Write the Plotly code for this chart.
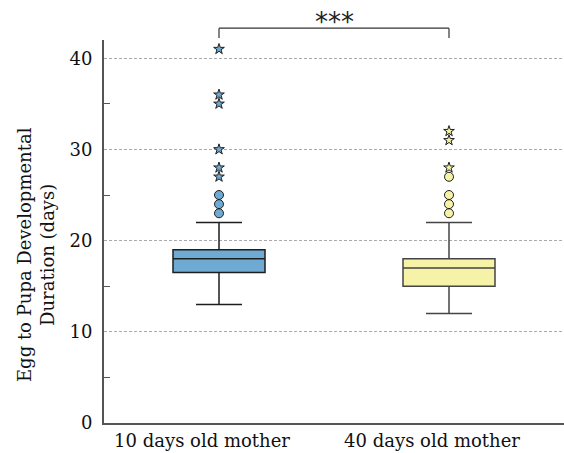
import plotly.graph_objects as go

categories = ["10 days old mother", "40 days old mother"]
q1 = [16.5, 15]
median = [18, 17]
q3 = [19, 18]
lower_fence = [13, 12]
upper_fence = [22, 22]
outliers = [[23, 24, 25], [23, 24, 25, 27]]
extremes = [[27, 28, 30, 35, 36, 41], [28, 31, 32]]
fills = ["#6faad3", "#f6f2a8"]
lines = ["#1e1e1e", "#444444"]
y_ticks = [0, 10, 20, 30, 40]
y_minor = [5, 15, 25, 35]
sig_label = "***"
y_title = "Egg to Pupa Developmental<br>Duration (days)"

FONT = "DejaVu Serif"

fig = go.Figure()
for i, cat in enumerate(categories):
    fig.add_trace(go.Box(
        x=[cat], q1=[q1[i]], median=[median[i]], q3=[q3[i]],
        lowerfence=[lower_fence[i]], upperfence=[upper_fence[i]],
        boxpoints=False, width=0.4, whiskerwidth=0.5,
        fillcolor=fills[i], line=dict(color=lines[i], width=1.5),
        showlegend=False, hoverinfo="skip"))
    fig.add_trace(go.Scatter(
        x=[cat] * len(outliers[i]), y=outliers[i], mode="markers",
        marker=dict(symbol="circle", size=9, color=fills[i],
                    line=dict(color="#1e1e1e", width=1)),
        showlegend=False, hoverinfo="skip", cliponaxis=False))
    fig.add_trace(go.Scatter(
        x=[cat] * len(extremes[i]), y=extremes[i], mode="markers",
        marker=dict(symbol="star", size=8, color=fills[i],
                    line=dict(color="#1e1e1e", width=1)),
        showlegend=False, hoverinfo="skip", cliponaxis=False))

# significance bracket
bracket_low, bracket_high = 1.005, 1.031
line_style = dict(color="#333333", width=1.2)
fig.add_shape(type="line", xref="x", yref="paper", x0=categories[0], x1=categories[0],
              y0=bracket_low, y1=bracket_high, line=line_style)
fig.add_shape(type="line", xref="x", yref="paper", x0=categories[0], x1=categories[1],
              y0=bracket_high, y1=bracket_high, line=line_style)
fig.add_shape(type="line", xref="x", yref="paper", x0=categories[1], x1=categories[1],
              y0=bracket_low, y1=bracket_high, line=line_style)
fig.add_annotation(text=sig_label, xref="paper", yref="paper", x=0.5, y=1.002,
                   xanchor="center", yanchor="bottom", showarrow=False,
                   font=dict(family="DejaVu Sans", size=26, color="#222"))
# y-axis title
fig.add_annotation(text=y_title, xref="paper", yref="paper", x=-0.148, y=0.441,
                   xanchor="center", yanchor="middle", textangle=-90, showarrow=False,
                   font=dict(family=FONT, size=18, color="#111"))

fig.update_layout(
    width=564, height=453,
    margin=dict(l=104, r=0, t=40, b=30),
    plot_bgcolor="white", paper_bgcolor="white",
    font=dict(family=FONT, color="#111"),
    boxmode="overlay",
)
fig.update_xaxes(
    type="category", range=[-0.5, 1.5], showline=True, linecolor="#555",
    linewidth=2, ticks="", showgrid=False, zeroline=False,
    tickfont=dict(family=FONT, size=18, color="#111"), ticklabelshift=-17,
    automargin=False)
fig.update_yaxes(
    range=[0, 42], tickmode="array", tickvals=y_ticks, ticks="",
    showgrid=True, gridcolor="#aaaaaa", griddash="3px,2px", gridwidth=1,
    zeroline=False, showline=True, linecolor="#555", linewidth=2,
    tickfont=dict(family=FONT, size=18, color="#111"), ticklabelstandoff=6,
    minor=dict(tickmode="array", tickvals=y_minor, ticks="inside", ticklen=6,
               tickcolor="#555", tickwidth=1, showgrid=False),
    automargin=False)

fig.write_html("out.html", config={"responsive": False, "displayModeBar": False},
               post_script="document.body.style.margin='0';")
